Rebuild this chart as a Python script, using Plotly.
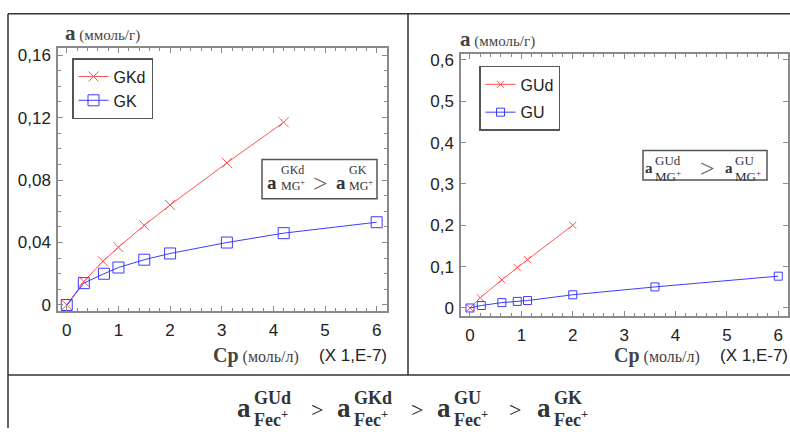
import plotly.graph_objects as go

# ---------------- data ----------------
gkd_x = [0, 0.33, 0.7, 1.0, 1.5, 2.0, 3.1, 4.2]
gkd_y = [0, 0.015, 0.028, 0.037, 0.051, 0.064, 0.091, 0.117]
gk_x = [0, 0.33, 0.72, 1.0, 1.5, 2.0, 3.1, 4.2, 6.0]
gk_y = [0, 0.014, 0.020, 0.024, 0.029, 0.033, 0.040, 0.046, 0.053]

gud_x = [0, 0.2, 0.62, 0.92, 1.12, 2.0]
gud_y = [0, 0.025, 0.068, 0.098, 0.117, 0.2]
gu_x = [0, 0.22, 0.62, 0.92, 1.12, 2.0, 3.6, 6.0]
gu_y = [0, 0.006, 0.013, 0.016, 0.018, 0.032, 0.051, 0.077]

x_ticks = [0, 1, 2, 3, 4, 5, 6]
y1_ticks = [0, 0.04, 0.08, 0.12, 0.16]
y1_labels = ["0", "0,04", "0,08", "0,12", "0,16"]
y2_ticks = [0, 0.1, 0.2, 0.3, 0.4, 0.5, 0.6]
y2_labels = ["0", "0,1", "0,2", "0,3", "0,4", "0,5", "0,6"]

W, H = 790, 432
def px(x): return x / W
def py(y): return 1 - y / H

RED = "rgb(255,85,85)"
BLUE = "rgb(60,60,255)"
AX = "#8a8a8a"
SERIF = "Liberation Serif"
SANS = "Liberation Sans"

fig = go.Figure()
fig.add_trace(go.Scatter(x=gkd_x, y=gkd_y, name="GKd", mode="lines+markers",
                         line=dict(color=RED, width=1),
                         marker=dict(symbol="x-thin-open", size=10, color=RED, line=dict(width=1, color=RED)),
                         xaxis="x", yaxis="y", legend="legend"))
fig.add_trace(go.Scatter(x=gk_x, y=gk_y, name="GK", mode="lines+markers",
                         line=dict(color=BLUE, width=1),
                         marker=dict(symbol="square-open", size=11, color=BLUE, line=dict(width=1, color=BLUE)),
                         xaxis="x", yaxis="y", legend="legend"))
fig.add_trace(go.Scatter(x=gud_x, y=gud_y, name="GUd", mode="lines+markers",
                         line=dict(color=RED, width=1), legendgroup="a",
                         marker=dict(symbol="x-thin-open", size=7, color=RED, line=dict(width=1, color=RED)),
                         xaxis="x2", yaxis="y2", legend="legend2"))
fig.add_trace(go.Scatter(x=gu_x, y=gu_y, name="GU", mode="lines+markers",
                         line=dict(color=BLUE, width=1), legendgroup="b",
                         marker=dict(symbol="square-open", size=8, color=BLUE, line=dict(width=1, color=BLUE)),
                         xaxis="x2", yaxis="y2", legend="legend2"))

def axis(**kw):
    d = dict(showline=True, linecolor=AX, linewidth=1.5, mirror="ticks",
             ticks="inside", ticklen=5, tickcolor=AX, tickwidth=1,
             showgrid=False, zeroline=False,
             tickfont=dict(family=SANS, size=17, color="#222"))
    d.update(kw)
    return d

fig.update_layout(
    width=W, height=H, margin=dict(l=0, r=0, t=0, b=0),
    paper_bgcolor="white", plot_bgcolor="white",
    xaxis=axis(domain=[px(58), px(387)], anchor="y", range=[-0.17, 6.2],
               tickvals=x_ticks, ticklabelstandoff=3,
               minor=dict(dtick=0.2, ticks="inside", ticklen=3, tickcolor=AX)),
    yaxis=axis(domain=[py(313), py(46)], anchor="x", range=[-0.0038, 0.1644],
               tickvals=y1_ticks, ticktext=y1_labels, ticklabelstandoff=2,
               minor=dict(dtick=0.01, ticks="inside", ticklen=3, tickcolor=AX)),
    xaxis2=axis(domain=[px(461), px(788)], anchor="y2", range=[-0.175, 6.19],
                tickvals=x_ticks, ticklabelstandoff=3,
                minor=dict(dtick=0.2, ticks="inside", ticklen=3, tickcolor=AX)),
    yaxis2=axis(domain=[py(318), py(52)], anchor="x2", range=[-0.019, 0.614],
                tickvals=y2_ticks, ticktext=y2_labels, ticklabelstandoff=2),
    legend=dict(x=px(72), y=py(56), xanchor="left", yanchor="top",
                bgcolor="white", bordercolor="#555", borderwidth=1.5,
                font=dict(family=SANS, size=16, color="#222"), itemwidth=30),
    legend2=dict(x=px(479), y=py(64), xanchor="left", yanchor="top",
                 bgcolor="white", bordercolor="#555", borderwidth=1.5, tracegroupgap=4,
                 font=dict(family=SANS, size=16, color="#222"), itemwidth=30),
    showlegend=True,
)

ann = []
def text(x, y, t, size, family=SERIF, color="#333", xanchor="center"):
    ann.append(dict(x=px(x), y=py(y), xref="paper", yref="paper", text=t, showarrow=False,
                    xanchor=xanchor, yanchor="middle", font=dict(family=family, size=size, color=color)))

# axis titles
for (xa, ya) in [(63, 31), (458, 37)]:
    text(xa, ya, '<b><span style="font-size:21px">a</span></b> (ммоль/г)', 15, color="#444", xanchor="left")
for (xr, yc) in [(389, 358), (790, 358)]:
    text(xr, yc, "(X 1,E-7)", 17, family=SANS, color="#222", xanchor="right")
    text(xr - 88, yc, '<b><span style="font-size:20px">Cp</span></b> (моль/л)', 16, color="#444", xanchor="right")

# relation boxes
shapes = []
def rect(x0, y0, x1, y1, color="#555", width=1.5):
    shapes.append(dict(type="rect", xref="paper", yref="paper", x0=px(x0), y0=py(y0), x1=px(x1), y1=py(y1),
                       line=dict(color=color, width=width), fillcolor="white", layer="above"))
rect(262, 159, 377, 199)
rect(643, 150, 767, 180)

def term(xa, ya, sup, sub, ys, yb, sx, fa, fs, bold_sub=False):
    text(xa, ya, "<b>a</b>", fa, color="#333")
    s = "<b>%s</b>" % sup if bold_sub else sup
    b = "<b>%s</b>" % sub if bold_sub else sub
    text(sx, ys, s, fs, color="#333", xanchor="left")
    text(sx, yb, b, fs, color="#333", xanchor="left")

term(272, 182, "GKd", "MG<sup>+</sup>", 170, 186, 279, 19, 12)
text(320, 183, "&gt;", 26, color="#666")
term(341, 182, "GK", "MG<sup>+</sup>", 170, 186, 347, 19, 12)

term(649, 168, "GUd", "MG<sup>+</sup>", 160, 176, 653, 15, 13)
text(707, 168, "&gt;", 26, color="#666")
term(729, 168, "GU", "MG<sup>+</sup>", 160, 176, 733, 15, 13)

# bottom formula
for (xa, sup) in [(244, "GUd"), (344, "GKd"), (444, "GU"), (544, "GK")]:
    term(xa, 412, sup, "Fec<sup>+</sup>", 401, 422, xa + 8, 27, 18, bold_sub=True)
for xg in [317, 417, 515]:
    text(xg, 413, "&gt;", 22, color="#222")

fig.update_layout(annotations=ann)

# table lines
def line(x0, y0, x1, y1):
    shapes.append(dict(type="line", xref="paper", yref="paper", x0=px(x0), y0=py(y0), x1=px(x1), y1=py(y1),
                       line=dict(color="#333", width=1.5)))
line(8, 11, 790, 11)
line(8, 11, 8, 432)
line(408, 11, 408, 378)
line(8, 378, 790, 378)
fig.update_layout(shapes=shapes)

fig.write_html("out.html", config={"displayModeBar": False},
               post_script="document.body.style.margin='0';document.body.style.padding='0';document.body.style.overflow='hidden';")
